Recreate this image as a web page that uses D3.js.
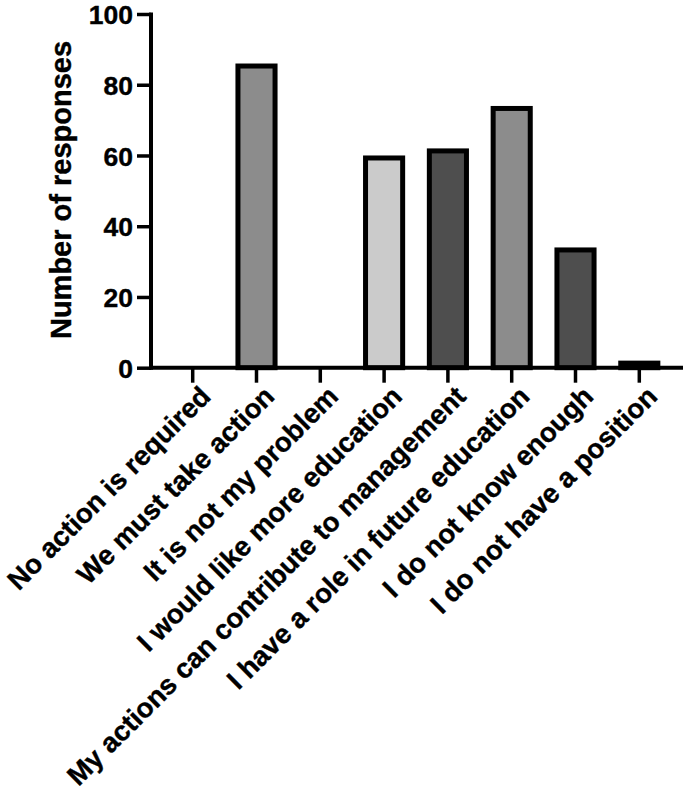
<!DOCTYPE html>
<html>
<head>
<meta charset="utf-8">
<script src="https://cdn.jsdelivr.net/npm/d3@7"></script>
<style>
  html, body { margin: 0; padding: 0; background: #fff; }
  svg { display: block; }
  text { font-family: "Liberation Sans", Arial, sans-serif; font-weight: bold; fill: #000; stroke: #000; stroke-width: 0.4px; }
</style>
</head>
<body>
<svg id="chart" width="689" height="793"></svg>
<script>
const categories = [
  "No action is required",
  "We must take action",
  "It is not my problem",
  "I would like more education",
  "My actions can contribute to management",
  "I have a role in future education",
  "I do not know enough",
  "I do not have a position"
];
const responses = [0, 86, 0, 60, 62, 74, 34, 2];
const barColors = ["#cbcbcb", "#8c8c8c", "#4e4e4e", "#cbcbcb", "#4e4e4e", "#8c8c8c", "#4e4e4e", "#cbcbcb"];
const yTicks = [0, 20, 40, 60, 80, 100];
const yTitle = "Number of responses";

const svg = d3.select("#chart");

const y = d3.scaleLinear().domain([0, 100]).range([367.7, 14]);
const x = d3.scaleBand().domain(categories).range([160.8, 671.2]).padding(0);

const barW = x.bandwidth() * 0.66;
const sw = 5;
const axisX0 = 151, axisX1 = 683;

// bars
const data = categories.map((c, i) => ({ c, v: responses[i], col: barColors[i] }));
svg.append("g").selectAll("rect")
  .data(data.filter(d => d.v > 0))
  .join("rect")
  .attr("x", d => x(d.c) + x.bandwidth() / 2 - barW / 2 + sw / 2)
  .attr("y", d => y(d.v) + sw / 2)
  .attr("width", barW - sw)
  .attr("height", d => y(0) - y(d.v) - sw / 2)
  .attr("fill", d => d.col)
  .attr("stroke", "#000")
  .attr("stroke-width", sw);

// y axis
const yAxis = d3.axisLeft(y).tickValues(yTicks).tickSize(14).tickPadding(4).tickFormat(d3.format("d"));
const gy = svg.append("g").attr("transform", `translate(${axisX0},0)`).call(yAxis);
gy.select(".domain").remove();
gy.selectAll(".tick line").attr("stroke", "#000").attr("stroke-width", 3.5);
gy.selectAll(".tick text").attr("font-size", 26.5).attr("font-family", "Liberation Sans, Arial, sans-serif").attr("font-weight", "bold").attr("fill", "#000").attr("dy", "0.36em");
svg.append("line").attr("x1", axisX0).attr("x2", axisX0).attr("y1", y(100) - 1.5).attr("y2", y(0) + 2)
  .attr("stroke", "#000").attr("stroke-width", 4);

// x axis
const xAxis = d3.axisBottom(x).tickSize(15).tickFormat("");
const gx = svg.append("g").attr("transform", `translate(0,${y(0)})`).call(xAxis);
gx.select(".domain").remove();
gx.selectAll(".tick line").attr("stroke", "#000").attr("stroke-width", 3.5);
svg.append("line").attr("x1", axisX0 - 2).attr("x2", axisX1).attr("y1", y(0)).attr("y2", y(0))
  .attr("stroke", "#000").attr("stroke-width", 4);

// x labels
svg.append("g").selectAll("text")
  .data(categories)
  .join("text")
  .attr("transform", d => `translate(${x(d) + x.bandwidth() / 2 + 19.5},${398}) rotate(-45)`)
  .attr("text-anchor", "end")
  .attr("font-size", 27.5)
  .text(d => d);

// y title
svg.append("text")
  .attr("transform", `translate(71,190) rotate(-90)`)
  .attr("text-anchor", "middle")
  .attr("font-size", 29)
  .text(yTitle);
</script>
</body>
</html>
